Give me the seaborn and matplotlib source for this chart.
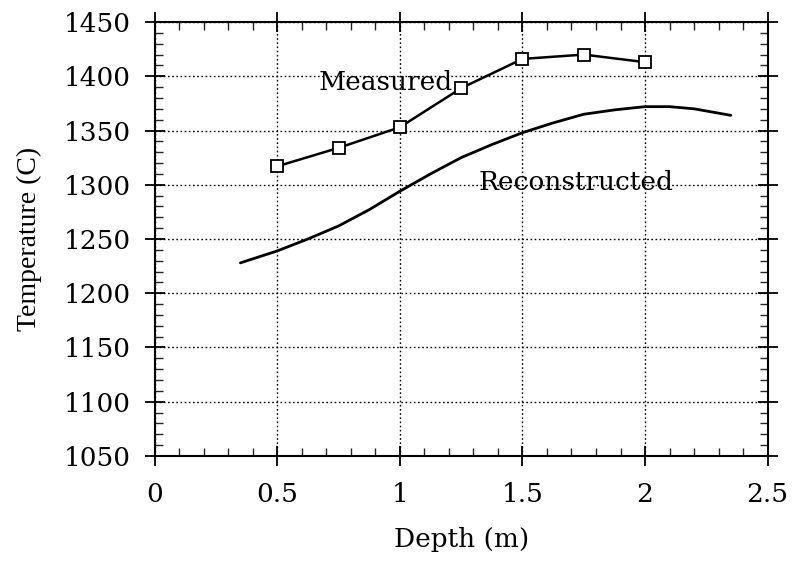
import matplotlib
matplotlib.use("Agg")
import matplotlib.pyplot as plt
import seaborn as sns
import pandas as pd
from matplotlib.ticker import MultipleLocator

depth_measured = [0.5, 0.75, 1.0, 1.25, 1.5, 1.75, 2.0]
temp_measured = [1317, 1334, 1353, 1389, 1416, 1420, 1413]

depth_recon = [0.35, 0.5, 0.625, 0.75, 0.875, 1.0, 1.125, 1.25, 1.375, 1.5,
               1.625, 1.75, 1.875, 2.0, 2.1, 2.2, 2.3, 2.35]
temp_recon = [1228, 1239, 1250, 1262, 1277, 1294, 1310, 1325, 1337, 1348,
              1357, 1365, 1369, 1372, 1372, 1370, 1366, 1364]

x_ticks = [0, 0.5, 1, 1.5, 2, 2.5]
x_tick_labels = ["0", "0.5", "1", "1.5", "2", "2.5"]
y_ticks = [1050, 1100, 1150, 1200, 1250, 1300, 1350, 1400, 1450]

sns.set_style("ticks")
plt.rcParams["font.family"] = ["DejaVu Serif"]
plt.rcParams["text.color"] = "black"
plt.rcParams["axes.labelcolor"] = "black"

fig = plt.figure(figsize=(7.93, 5.65), dpi=100)
ax = fig.add_axes([0.195, 0.193, 0.773, 0.768])

df_m = pd.DataFrame({"depth": depth_measured, "temp": temp_measured})
df_r = pd.DataFrame({"depth": depth_recon, "temp": temp_recon})

sns.lineplot(data=df_r, x="depth", y="temp", ax=ax, color="black", linewidth=2)
sns.lineplot(data=df_m, x="depth", y="temp", ax=ax, color="black", linewidth=1.8,
             marker="s", markersize=8, markerfacecolor="white",
             markeredgecolor="black", markeredgewidth=1.3)

ax.set_xlim(0, 2.5)
ax.set_ylim(1050, 1450)
ax.set_xticks(x_ticks)
ax.set_xticklabels(x_tick_labels)
ax.set_yticks(y_ticks)
ax.xaxis.set_minor_locator(MultipleLocator(0.1))
ax.yaxis.set_minor_locator(MultipleLocator(10))

ax.grid(True, which="major", color="black", linestyle=(0, (1.2, 1.8)), linewidth=1.0)
ax.tick_params(which="major", direction="inout", length=14, width=1.3,
               top=True, right=True, labelsize=19, colors="black")
ax.tick_params(axis="y", which="major", pad=10)
ax.tick_params(axis="x", which="major", pad=12)
ax.tick_params(which="minor", direction="in", length=6, width=1.0,
               top=True, right=True)
for s in ax.spines.values():
    s.set_visible(True)
    s.set_linewidth(1.5)
    s.set_color("black")

ax.set_xlabel("Depth (m)", fontsize=19, labelpad=14)
ax.set_ylabel("Temperature (C)", fontsize=20, labelpad=16,
              family=["Liberation Serif", "DejaVu Serif"])

ax.text(0.67, 1394, "Measured", fontsize=19, ha="left", va="center")
ax.text(1.32, 1302, "Reconstructed", fontsize=19, ha="left", va="center")

fig.savefig("out.png", dpi=100)
